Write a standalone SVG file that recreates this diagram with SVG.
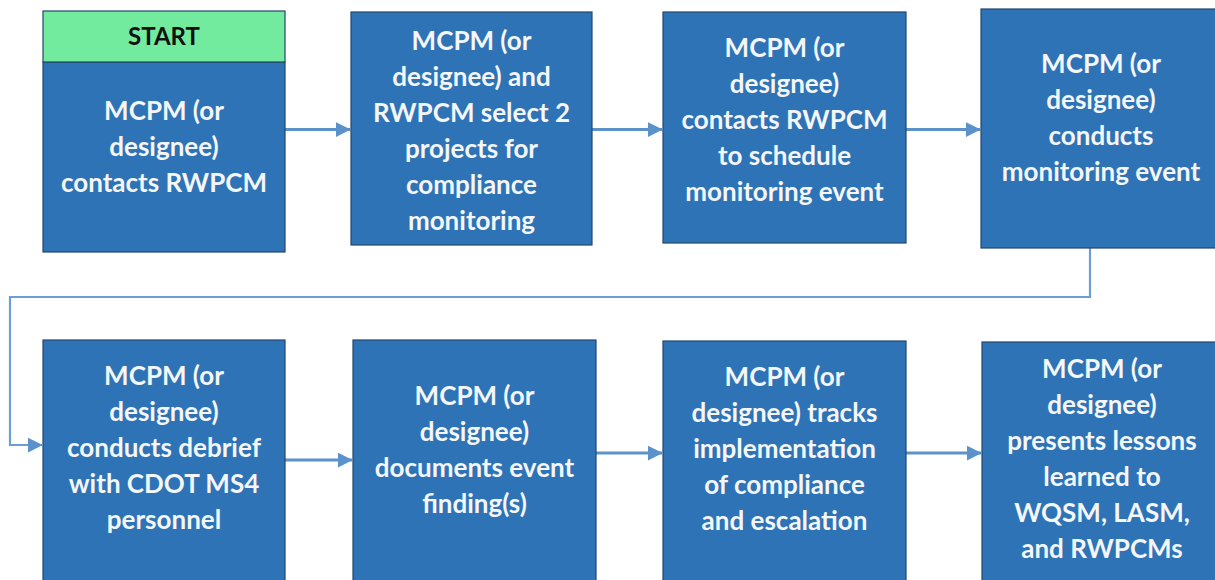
<svg xmlns="http://www.w3.org/2000/svg" width="1215" height="580" viewBox="0 0 1215 580">
  <style>
    .box { fill: #2E73B6; stroke: #22466E; stroke-width: 1.2; }
    .head { fill: #72EB9E; stroke: #22466E; stroke-width: 1.2; }
    .lbl { font-family: Lato, "Open Sans", "Liberation Sans", sans-serif; font-weight: bold; font-size: 26px; fill: #F4F6F8; text-anchor: middle; }
    .start { font-family: Lato, "Open Sans", "Liberation Sans", sans-serif; font-weight: bold; font-size: 24px; fill: #111111; text-anchor: middle; }
    .conn { fill: none; stroke: #5B92CC; stroke-width: 3; }
    .thin { fill: none; stroke: #6A9FD2; stroke-width: 2.2; }
  </style>
  <defs>
    <marker id="arrow" viewBox="0 0 10 10" refX="9.5" refY="5" markerUnits="userSpaceOnUse" markerWidth="15" markerHeight="16" orient="auto">
      <path d="M0,0 L10,5 L0,10 Z" fill="#5B92CC"/>
    </marker>
  </defs>
  <rect width="1215" height="580" fill="#FFFFFF"/>

  <!-- connectors -->
  <g id="connectors">
    <line class="conn" x1="285" y1="129.5" x2="350" y2="129.5" marker-end="url(#arrow)"/>
    <line class="conn" x1="592" y1="129.5" x2="662" y2="129.5" marker-end="url(#arrow)"/>
    <line class="conn" x1="906" y1="129.5" x2="980" y2="129.5" marker-end="url(#arrow)"/>
    <polyline class="thin" points="1090,248 1090,297 10,297 10,445 42,445" marker-end="url(#arrow)"/>
    <line class="conn" x1="285" y1="460" x2="352" y2="460" marker-end="url(#arrow)"/>
    <line class="conn" x1="596" y1="453" x2="662" y2="453" marker-end="url(#arrow)"/>
    <line class="conn" x1="906" y1="453" x2="981" y2="453" marker-end="url(#arrow)"/>
  </g>

  <!-- step 1 (start) -->
  <g id="node1">
    <rect class="box" x="43" y="62" width="242" height="190"/>
    <rect class="head" x="43" y="11" width="242" height="51"/>
    <text class="start" x="164" y="45">START</text>
    <text class="lbl" x="164" y="120">MCPM (or</text>
    <text class="lbl" x="164" y="156">designee)</text>
    <text class="lbl" x="164" y="192">contacts RWPCM</text>
  </g>

  <!-- step 2 -->
  <g id="node2">
    <rect class="box" x="351" y="12" width="241" height="233"/>
    <text class="lbl" x="471.5" y="50">MCPM (or</text>
    <text class="lbl" x="471.5" y="86">designee) and</text>
    <text class="lbl" x="471.5" y="122">RWPCM select 2</text>
    <text class="lbl" x="471.5" y="158">projects for</text>
    <text class="lbl" x="471.5" y="194">compliance</text>
    <text class="lbl" x="471.5" y="230">monitoring</text>
  </g>

  <!-- step 3 -->
  <g id="node3">
    <rect class="box" x="663" y="12" width="243" height="231"/>
    <text class="lbl" x="784.5" y="57">MCPM (or</text>
    <text class="lbl" x="784.5" y="93">designee)</text>
    <text class="lbl" x="784.5" y="129">contacts RWPCM</text>
    <text class="lbl" x="784.5" y="165">to schedule</text>
    <text class="lbl" x="784.5" y="201">monitoring event</text>
  </g>

  <!-- step 4 -->
  <g id="node4">
    <rect class="box" x="981" y="9" width="241" height="239"/>
    <text class="lbl" x="1101" y="73">MCPM (or</text>
    <text class="lbl" x="1101" y="109">designee)</text>
    <text class="lbl" x="1101" y="145">conducts</text>
    <text class="lbl" x="1101" y="181">monitoring event</text>
  </g>

  <!-- step 5 -->
  <g id="node5">
    <rect class="box" x="43" y="340" width="242" height="250"/>
    <text class="lbl" x="164" y="385">MCPM (or</text>
    <text class="lbl" x="164" y="421">designee)</text>
    <text class="lbl" x="164" y="457">conducts debrief</text>
    <text class="lbl" x="164" y="493">with CDOT MS4</text>
    <text class="lbl" x="164" y="529">personnel</text>
  </g>

  <!-- step 6 -->
  <g id="node6">
    <rect class="box" x="353" y="340" width="243" height="250"/>
    <text class="lbl" x="474.5" y="405">MCPM (or</text>
    <text class="lbl" x="474.5" y="441">designee)</text>
    <text class="lbl" x="474.5" y="477">documents event</text>
    <text class="lbl" x="474.5" y="513">finding(s)</text>
  </g>

  <!-- step 7 -->
  <g id="node7">
    <rect class="box" x="663" y="341" width="243" height="250"/>
    <text class="lbl" x="784.5" y="386">MCPM (or</text>
    <text class="lbl" x="784.5" y="422">designee) tracks</text>
    <text class="lbl" x="784.5" y="458">implementation</text>
    <text class="lbl" x="784.5" y="494">of compliance</text>
    <text class="lbl" x="784.5" y="530">and escalation</text>
  </g>

  <!-- step 8 -->
  <g id="node8">
    <rect class="box" x="982" y="342" width="240" height="250"/>
    <text class="lbl" x="1102" y="378">MCPM (or</text>
    <text class="lbl" x="1102" y="414">designee)</text>
    <text class="lbl" x="1102" y="450">presents lessons</text>
    <text class="lbl" x="1102" y="486">learned to</text>
    <text class="lbl" x="1102" y="522">WQSM, LASM,</text>
    <text class="lbl" x="1102" y="558">and RWPCMs</text>
  </g>
</svg>
